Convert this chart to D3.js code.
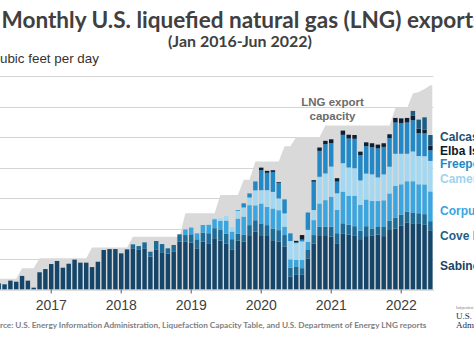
<!DOCTYPE html>
<html>
<head>
<meta charset="utf-8">
<script src="https://cdn.jsdelivr.net/npm/d3@7"></script>
<style>
  body { margin: 0; background: #fff; overflow: hidden; }
  svg { display: block; }
</style>
</head>
<body>
<svg id="chart" width="474" height="338"></svg>
<script>
// monthly exports, billion cubic feet per day, Jan 2016 - Jun 2022
const years = ['2016', '2017', '2018', '2019', '2020', '2021', '2022'];

const sabinePass = [
  0, 0.05, 0.27, 0.40, 0.34, 0.58, 0.51, 0.89, 0.58, 0.12, 1.13, 1.34,
  1.67, 1.87, 1.43, 1.69, 1.96, 1.76, 1.76, 1.47, 1.82, 2.59, 2.65, 2.65,
  2.37, 2.63, 2.70, 2.60, 2.70, 2.15, 2.60, 2.40, 2.35, 2.50, 3.13, 3.13,
  3.07, 2.70, 3.14, 3.03, 3.36, 3.20, 3.00, 2.60, 3.20, 3.13, 3.56, 3.79,
  3.56, 3.56, 3.23, 3.14, 2.82, 0.83, 0.96, 0.96, 2.04, 3.02, 3.56, 3.56,
  3.46, 3.03, 3.68, 3.60, 3.55, 3.30, 3.50, 3.55, 3.60, 3.50, 3.90, 4.00,
  4.20, 4.40, 4.30, 4.30, 4.24, 3.88
];
const covePoint = [
  0, 0, 0, 0, 0, 0, 0, 0, 0, 0, 0, 0,
  0, 0, 0, 0, 0, 0, 0, 0, 0, 0, 0, 0,
  0, 0, 0.26, 0.25, 0.39, 0.33, 0.58, 0.58, 0.35, 0.42, 0.49, 0.44,
  0.55, 0.59, 0.59, 0.66, 0.66, 0.70, 0.65, 0.70, 0.45, 0.45, 0.66, 0.75,
  0.77, 0.66, 0.77, 0.75, 0.75, 0.60, 0.55, 0.44, 0.55, 0.55, 0.55, 0.55,
  0.66, 0.66, 0.66, 0.65, 0.60, 0.55, 0.65, 0.45, 0.50, 0.60, 0.60, 0.70,
  0.70, 0.70, 0.75, 0.70, 0.70, 0.60
];
const corpusChristi = [
  0, 0, 0, 0, 0, 0, 0, 0, 0, 0, 0, 0,
  0, 0, 0, 0, 0, 0, 0, 0, 0, 0, 0, 0,
  0, 0, 0, 0, 0, 0, 0, 0, 0, 0, 0, 0.37,
  0.44, 0.39, 0.50, 0.55, 0.59, 0.60, 0.87, 0.50, 1.00, 1.20, 1.31, 0.98,
  1.31, 1.20, 1.31, 1.31, 0.55, 0.55, 0.44, 0.55, 0.55, 0.98, 1.53, 1.75,
  1.97, 1.53, 2.08, 1.90, 2.00, 1.70, 1.75, 1.80, 1.70, 1.75, 1.80, 2.10,
  2.00, 2.00, 2.05, 1.90, 1.95, 1.95
];
const cameron = [
  0, 0, 0, 0, 0, 0, 0, 0, 0, 0, 0, 0,
  0, 0, 0, 0, 0, 0, 0, 0, 0, 0, 0, 0,
  0, 0, 0, 0, 0, 0, 0, 0, 0, 0, 0, 0,
  0, 0, 0, 0, 0.05, 0.17, 0.30, 0.30, 0.50, 0.60, 0.50, 0.98,
  0.87, 1.09, 1.09, 0.77, 0.87, 1.20, 1.09, 1.20, 0.77, 0.66, 1.75, 1.75,
  1.97, 1.09, 1.86, 1.85, 1.80, 1.60, 1.70, 1.75, 1.55, 1.70, 1.75, 2.10,
  2.00, 1.80, 1.95, 1.85, 1.85, 2.00
];
const freeport = [
  0, 0, 0, 0, 0, 0, 0, 0, 0, 0, 0, 0,
  0, 0, 0, 0, 0, 0, 0, 0, 0, 0, 0, 0,
  0, 0, 0, 0, 0, 0, 0, 0, 0, 0, 0, 0,
  0, 0, 0, 0, 0, 0, 0, 0, 0.05, 0.27, 0.27, 0.55,
  1.31, 1.14, 1.31, 1.03, 0.92, 0.50, 0.05, 0.12, 1.14, 1.86, 1.70, 1.92,
  1.53, 0.77, 1.86, 1.90, 1.93, 1.65, 1.80, 1.79, 1.90, 1.80, 1.88, 2.05,
  2.02, 2.05, 2.05, 1.51, 1.50, 0.70
];
const elbaIsland = [
  0, 0, 0, 0, 0, 0, 0, 0, 0, 0, 0, 0,
  0, 0, 0, 0, 0, 0, 0, 0, 0, 0, 0, 0,
  0, 0, 0, 0, 0, 0, 0, 0, 0, 0, 0, 0,
  0, 0, 0, 0, 0, 0, 0, 0, 0, 0, 0, 0.02,
  0.17, 0.13, 0.11, 0.05, 0, 0, 0.10, 0.30, 0, 0.10, 0.22, 0.22,
  0.26, 0.22, 0.28, 0.25, 0.25, 0.24, 0.25, 0.25, 0.25, 0.24, 0.25, 0.30,
  0.30, 0.30, 0.31, 0.28, 0.25, 0.30
];
const calcasieuPass = [
  0, 0, 0, 0, 0, 0, 0, 0, 0, 0, 0, 0,
  0, 0, 0, 0, 0, 0, 0, 0, 0, 0, 0, 0,
  0, 0, 0, 0, 0, 0, 0, 0, 0, 0, 0, 0,
  0, 0, 0, 0, 0, 0, 0, 0, 0, 0, 0, 0,
  0, 0, 0, 0, 0, 0, 0, 0, 0, 0, 0, 0,
  0, 0, 0, 0, 0, 0, 0, 0, 0, 0, 0, 0,
  0, 0, 0.30, 0.60, 0.80, 0.70
];
// LNG export capacity
const capacity = [
  0.7, 0.7, 0.7, 0.7, 0.7, 0.7, 0.7, 1.4, 1.4, 1.4, 2.05, 2.05,
  2.05, 2.05, 2.05, 2.05, 2.05, 2.05, 2.05, 2.75, 2.75, 2.75, 2.75, 2.75,
  2.75, 2.75, 3.46, 3.46, 3.46, 3.46, 3.46, 3.46, 3.46, 3.46, 3.46, 5.0,
  5.0, 5.0, 5.0, 5.0, 5.0, 6.2, 6.2, 6.2, 6.2, 7.2, 7.2, 8.4,
  8.4, 8.4, 8.4, 8.4, 9.4, 9.4, 10.0, 10.0, 10.0, 10.0, 10.0, 10.75,
  10.75, 10.75, 10.75, 10.75, 10.75, 10.75, 10.75, 10.75, 10.75, 10.75, 10.75, 11.9,
  11.9, 11.9, 12.85, 12.95, 13.15, 13.4
];
const yTicks = [2, 4, 6, 8, 10, 12, 14];

const seriesNames = ['Sabine Pass', 'Cove Point', 'Corpus Christi', 'Cameron', 'Freeport', 'Elba Island', 'Calcasieu Pass'];
const seriesValues = [sabinePass, covePoint, corpusChristi, cameron, freeport, elbaIsland, calcasieuPass];

const COLORS = ['#15466a', '#1d6c98', '#3aa5de', '#a3d8f2', '#2389c6', '#0d1f33', '#1d5b82'];
const LABEL_COLORS = ['#174466', '#1f5f86', '#3aa5de', '#9fd3ee', '#2389c6', '#0b1a2b', '#1d4f72'];
const LABEL_Y = [270, 240, 215, 182.5, 167.5, 154.5, 141];
const CAP_GRAY = '#d9d9d9';

(function() {
    var svg = d3.select('#chart');

    var months = d3.timeMonth.range(new Date(2016, 0, 1), new Date(2022, 6, 1));
    var idx = d3.range(months.length);

    var rows = idx.map(function(i) {
        var r = { i: i };
        seriesNames.forEach(function(k, j) { r[k] = seriesValues[j][i]; });
        return r;
    });

    var x = d3.scaleBand()
        .domain(idx)
        .range([-21.7, 433.3])
        .paddingInner(0.24)
        .paddingOuter(0.12);
    var y = d3.scaleLinear().domain([0, 14]).range([289.5, 76]);
    var cx = function(i) { return x(i) + x.bandwidth() / 2; };

    // gridlines
    svg.append('g').selectAll('line')
        .data(yTicks)
        .join('line')
        .attr('x1', 0)
        .attr('x2', x.range()[1])
        .attr('y1', function(d) { return Math.round(y(d)) + 0.5; })
        .attr('y2', function(d) { return Math.round(y(d)) + 0.5; })
        .style('stroke', '#d4d4d4')
        .style('stroke-width', 1);

    // capacity area
    var capPts = idx.map(function(i) { return [cx(i), capacity[i]]; });
    capPts.unshift([x.range()[0], capacity[0]]);
    capPts.push([x.range()[1] - 1, capacity[capacity.length - 1]]);
    svg.append('path')
        .datum(capPts)
        .attr('d', d3.area()
            .x(function(d) { return d[0]; })
            .y0(y(0))
            .y1(function(d) { return y(d[1]); }))
        .style('fill', CAP_GRAY);

    // stacked bars
    var stacked = d3.stack().keys(seriesNames)(rows);
    svg.append('g').selectAll('g')
        .data(stacked)
        .join('g')
        .style('fill', function(d, j) { return COLORS[j]; })
        .selectAll('rect')
        .data(function(d) { return d.filter(function(s) { return s[1] - s[0] > 0; }); })
        .join('rect')
        .attr('x', function(d) { return x(d.data.i); })
        .attr('width', x.bandwidth())
        .attr('y', function(d) { return y(d[1]); })
        .attr('height', function(d) { return y(d[0]) - y(d[1]); });

    // x axis: ticks at each January
    var janIdx = idx.filter(function(i) { return months[i].getMonth() === 0; });
    var axis = svg.append('g')
        .attr('transform', 'translate(0,' + y(0) + ')')
        .call(d3.axisBottom(x)
            .tickValues(janIdx)
            .tickSize(4)
            .tickSizeOuter(0)
            .tickPadding(6.5)
            .tickFormat(function(i) { return years[months[i].getFullYear() - 2016]; }));
    axis.select('.domain').style('stroke', '#bfbfbf');
    axis.selectAll('.tick line').style('stroke', '#595959');
    axis.selectAll('.tick text')
        .style('font-family', 'Liberation Sans, Arial, sans-serif')
        .style('font-size', '14px')
        .style('fill', '#404040');

    // capacity label
    var capLabel = svg.append('text')
        .attr('x', 332.5)
        .attr('y', 105.5)
        .attr('text-anchor', 'middle')
        .style('font-family', 'Liberation Sans, Arial, sans-serif')
        .style('font-weight', 'bold')
        .style('font-size', '11.5px')
        .style('fill', '#6b6b6b');
    capLabel.append('tspan').attr('x', 332.5).text('LNG export');
    capLabel.append('tspan').attr('x', 332.5).attr('dy', 14).text('capacity');

    // series labels
    svg.append('g').selectAll('text')
        .data(seriesNames)
        .join('text')
        .attr('x', 440)
        .attr('y', function(d, j) { return LABEL_Y[j]; })
        .style('font-family', 'Liberation Sans, Arial, sans-serif')
        .style('font-weight', 'bold')
        .style('font-size', '12px')
        .style('fill', function(d, j) { return LABEL_COLORS[j]; })
        .text(function(d) { return d; });

    // fit text so a substring spans a given width, starting at x0
    function fitText(sel, from, to, x0, width) {
        var node = sel.node();
        var fs = parseFloat(sel.attr('font-size'));
        var len = node.getSubStringLength(from, to - from);
        fs = fs * width / len;
        sel.attr('font-size', fs);
        var pre = from > 0 ? node.getSubStringLength(0, from) : 0;
        sel.attr('x', x0 - pre);
    }

    var titleText = 'Monthly U.S. liquefied natural gas (LNG) exports';
    var title = svg.append('text')
        .attr('y', 27.5)
        .attr('font-size', 22)
        .style('font-family', 'Lato, sans-serif')
        .style('font-weight', 'bold')
        .style('fill', '#404040')
        .text(titleText);
    fitText(title, 0, titleText.length - 1, 1.5, 472);

    var subText = '(Jan 2016-Jun 2022)';
    var sub = svg.append('text')
        .attr('y', 47)
        .attr('font-size', 16)
        .style('font-family', 'Lato, sans-serif')
        .style('font-weight', 'bold')
        .style('fill', '#404040')
        .text(subText);
    fitText(sub, 0, subText.length, 168, 144);

    var unitText = 'billion cubic feet per day';
    var unit = svg.append('text')
        .attr('y', 63)
        .attr('font-size', 13)
        .style('font-family', 'Liberation Sans, Arial, sans-serif')
        .style('fill', '#333333')
        .text(unitText);
    fitText(unit, 9, unitText.length, 0, 99);

    var srcText = 'Source: U.S. Energy Information Administration, Liquefaction Capacity Table, and U.S. Department of Energy LNG reports';
    var src = svg.append('text')
        .attr('y', 328)
        .attr('font-size', 9)
        .style('font-family', 'Lato, sans-serif')
        .style('font-weight', 'bold')
        .style('fill', '#808080')
        .text(srcText);
    fitText(src, 3, srcText.length, 0, 426.5);

    // agency mark
    var logo = svg.append('g')
        .style('font-family', 'Liberation Serif, serif')
        .style('fill', '#1c2b4a');
    logo.append('text')
        .attr('x', 456).attr('y', 309)
        .style('font-size', '3.5px')
        .style('fill', '#777')
        .text('Independent Statistics & Analysis');
    logo.append('text')
        .attr('x', 456).attr('y', 319)
        .style('font-size', '9px')
        .text('U.S. Energy Information');
    logo.append('text')
        .attr('x', 456).attr('y', 327.5)
        .style('font-size', '9px')
        .text('Administration');
})();
</script>
</body>
</html>
